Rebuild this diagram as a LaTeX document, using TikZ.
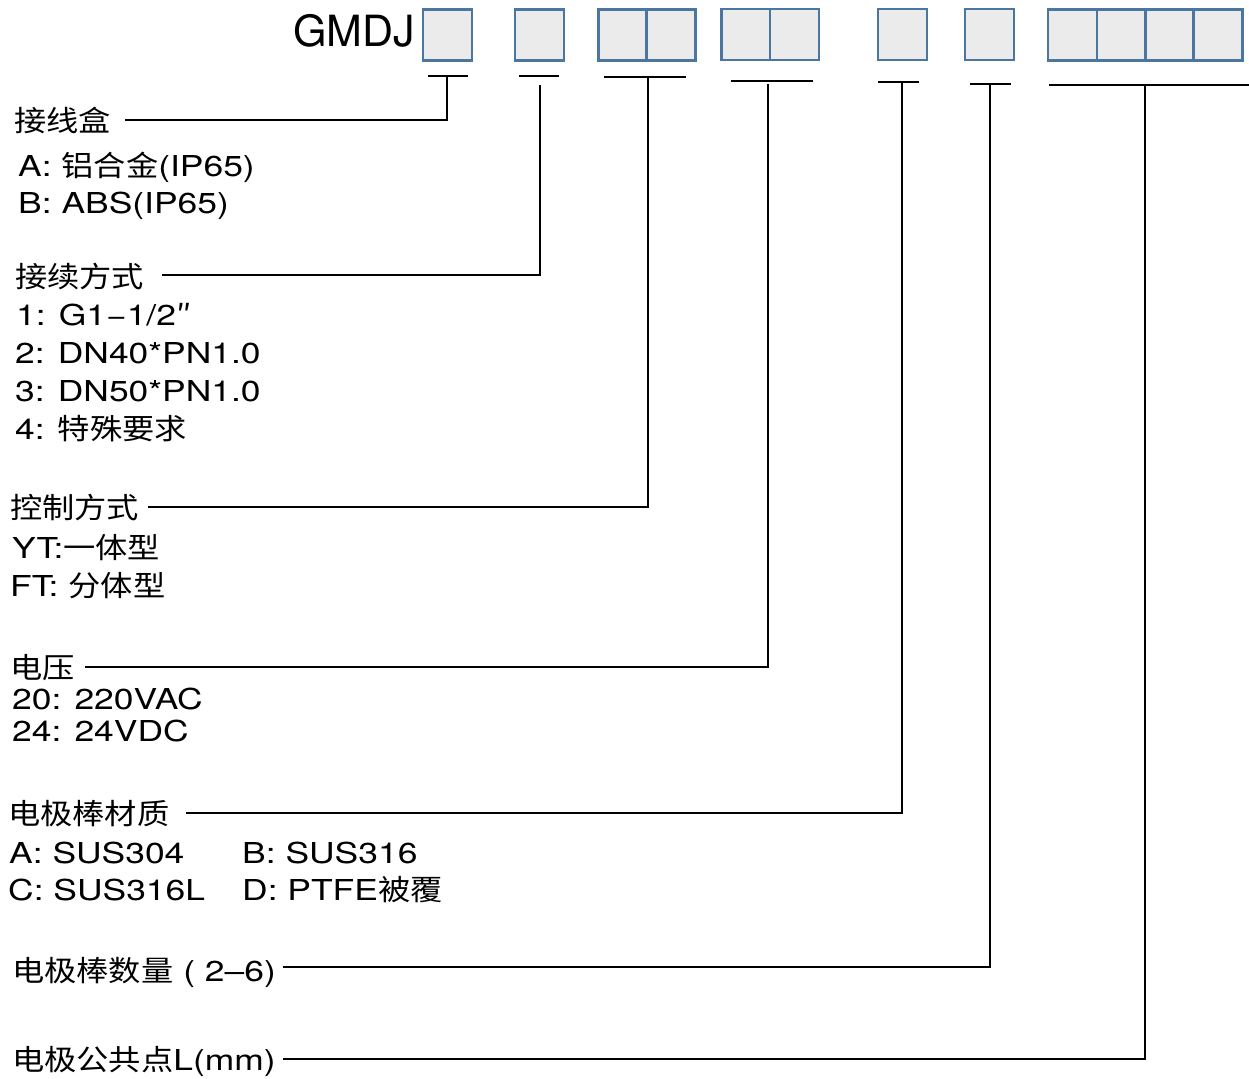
\documentclass[tikz,border=0pt]{standalone}
\usepackage{fontspec}
\setmainfont{TeX Gyre Heros}[FakeStretch=1.23]
\newfontfamily\zhfont{Noto Sans CJK SC}[FakeStretch=1.12]
\newfontfamily\plainfont{TeX Gyre Heros}
\newcommand\zh[1]{{\zhfont #1}}
\definecolor{boxblue}{HTML}{4A76A0}
\definecolor{boxgray}{HTML}{EBEBEB}
\tikzset{
  cell/.style={draw=boxblue, fill=boxgray, line width=2.5pt, minimum width=49pt, minimum height=51pt, inner sep=0pt},
  bar/.style={line width=2pt, black},
  lead/.style={line width=2pt, black},
  txt/.style={anchor=base west, inner sep=0pt, font=\fontsize{28.8}{34}\selectfont},
}
\begin{document}
\begin{tikzpicture}[x=1pt,y=-1pt]
\useasboundingbox (0,0) rectangle (1249,1078);
% header
\node[anchor=base east, inner sep=0pt, font=\plainfont\fontsize{43}{50}\selectfont] (title) at (415,47) {GMDJ};
\node[cell] (b1) at (447.5,35) {};
\node[cell] (b2) at (539.5,35) {};
\node[cell] (b3a) at (623,35) {};
\node[cell] (b3b) at (671,35) {};
\node[cell] (b4a) at (746,34.5) {};
\node[cell] (b4b) at (794.5,34.5) {};
\node[cell] (b5) at (902.5,34.5) {};
\node[cell] (b6) at (989.5,34.5) {};
\node[cell] (b7a) at (1072.5,35) {};
\node[cell] (b7b) at (1121.5,35) {};
\node[cell] (b7c) at (1170,35) {};
\node[cell] (b7d) at (1218,35) {};
% bars under boxes
\draw[bar] (428,76.5) -- (468,76.5);
\draw[bar] (519,76.5) -- (559,76.5);
\draw[bar] (604,77) -- (686,77);
\draw[bar] (731,81) -- (813,81);
\draw[bar] (878,82.5) -- (919,82.5);
\draw[bar] (970,84) -- (1011,84);
\draw[bar] (1049,85) -- (1249,85);
\coordinate (t1) at (446.7,76.5);
\coordinate (t2) at (540,85);
\coordinate (t3) at (648,77);
\coordinate (t4) at (768,84);
\coordinate (t5) at (902,82.5);
\coordinate (t6) at (990,84);
\coordinate (t7) at (1145,85);
% section 1
\node[txt] (l1) at (14,132) {\zh{接线盒}};
\node[txt] (l1a) at (18,177) {A: \zh{铝合金}(IP65)};
\node[txt] (l1b) at (18,213) {B: ABS(IP65)};
\coordinate (s1) at (125,120);
\draw[lead] (s1) -| (t1);
% section 2
\node[txt] (l2) at (15,287) {\zh{接续方式}};
\node[txt] (l2a) at (16,325) {1: G1−1/2\zh{″}};
\node[txt] (l2b) at (15,363) {2: DN40*PN1.0};
\node[txt] (l2c) at (15,401) {3: DN50*PN1.0};
\node[txt] (l2d) at (15,439) {4: \zh{特殊要求}};
\coordinate (s2) at (162,275);
\draw[lead] (s2) -| (t2);
% section 3
\node[txt] (l3) at (10,518) {\zh{控制方式}};
\node[txt] (l3a) at (12,558) {YT:\zh{一体型}};
\node[txt] (l3b) at (10,596) {FT:\hspace{10pt}\zh{分体型}};
\coordinate (s3) at (148,506.7);
\draw[lead] (s3) -| (t3);
% section 4
\node[txt] (l4) at (10,678) {\zh{电压}};
\node[txt] (l4a) at (12,709) {20: 220VAC};
\node[txt] (l4b) at (12,741) {24: 24VDC};
\coordinate (s4) at (85,667.3);
\draw[lead] (s4) -| (t4);
% section 5
\node[txt] (l5) at (8,824) {\zh{电极棒材质}};
\node[txt] (l5a) at (9,863) {A: SUS304};
\node[txt] (l5b) at (242,863) {B: SUS316};
\node[txt] (l5c) at (8,900) {C: SUS316L};
\node[txt] (l5d) at (242,900) {D: PTFE\zh{被覆}};
\coordinate (s5) at (186,813);
\draw[lead] (s5) -| (t5);
% section 6
\node[txt] (l6) at (12,981) {\zh{电极棒数量} ( 2–6)};
\coordinate (s6) at (283,967);
\draw[lead] (s6) -| (t6);
% section 7
\node[txt] (l7) at (12,1070) {\zh{电极公共点}L(mm)};
\coordinate (s7) at (283,1059);
\draw[lead] (s7) -| (t7);
\end{tikzpicture}
\end{document}
